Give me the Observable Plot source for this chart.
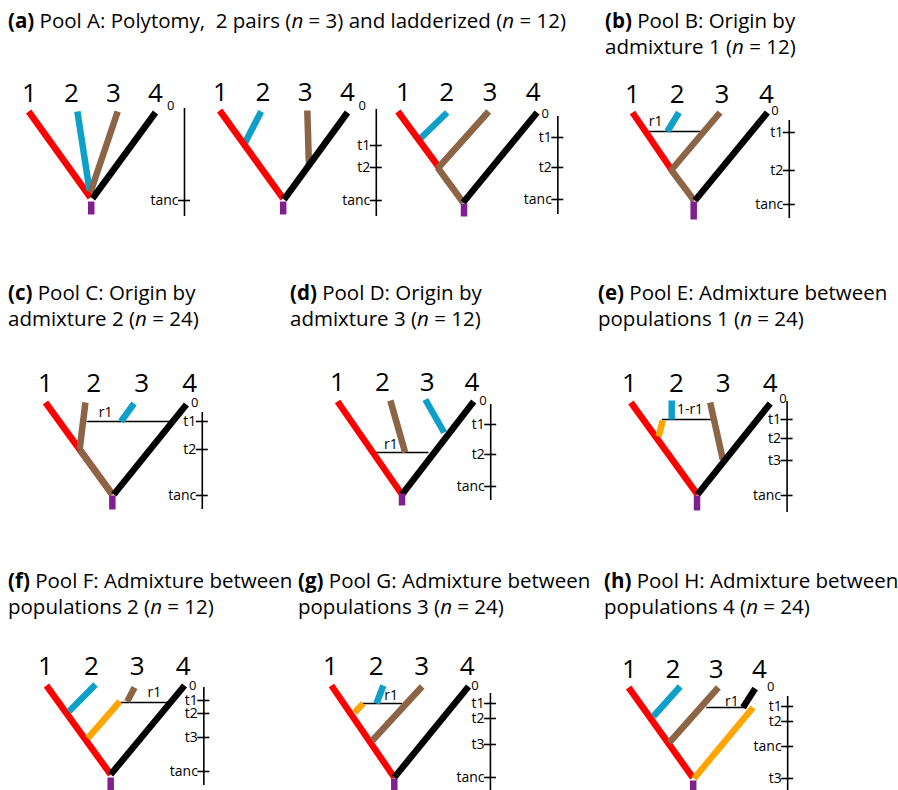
<!DOCTYPE html>
<html><head><meta charset="utf-8">
<script src="https://cdn.jsdelivr.net/npm/d3@7"></script>
<script src="https://cdn.jsdelivr.net/npm/@observablehq/plot@0.6"></script>
<style>
body{margin:0;background:#fff;}
#fig{position:relative;width:898px;height:790px;overflow:hidden;background:#fff;font-family:"Open Sans",sans-serif;color:#000;}
.title{position:absolute;font-size:20.5px;line-height:26px;white-space:pre;color:#000;}
.title b{font-weight:700}
</style></head><body><div id="fig"></div>
<script>
// ---- data ----
const panelTitles = [
  {panel:"a", tag:"(a)", lines:["Pool A: Polytomy,  2 pairs (n = 3) and ladderized (n = 12)"]},
  {panel:"b", tag:"(b)", lines:["Pool B: Origin by", "admixture 1 (n = 12)"]},
  {panel:"c", tag:"(c)", lines:["Pool C: Origin by", "admixture 2 (n = 24)"]},
  {panel:"d", tag:"(d)", lines:["Pool D: Origin by", "admixture 3 (n = 12)"]},
  {panel:"e", tag:"(e)", lines:["Pool E: Admixture between", "populations 1 (n = 24)"]},
  {panel:"f", tag:"(f)", lines:["Pool F: Admixture between", "populations 2 (n = 12)"]},
  {panel:"g", tag:"(g)", lines:["Pool G: Admixture between", "populations 3 (n = 24)"]},
  {panel:"h", tag:"(h)", lines:["Pool H: Admixture between", "populations 4 (n = 24)"]}
];
const tipLabels = [
  {label:"1", x:1, t:-1.0}, {label:"2", x:2, t:-1.0},
  {label:"3", x:3, t:-1.0}, {label:"4", x:4, t:-1.0}
];
// lineage groups and their colours
const lineageNames = ["lineageRed","lineageBlue","lineageBrown","lineageBlack","lineageOrange","lineagePurple"];
const lineageColors = ["#ff0000","#0ea0c8","#8c6446","#000000","#ffa500","#80208f"];

// branches: x in tip units (1..4), t in time units (0 = present)
const branches = [
  {tree:"A1", lin:"lineageRed",    x1:0.98, t1:0.0, x2:2.45, t2:8.6},
  {tree:"A1", lin:"lineageBlue",   x1:2.14, t1:0.0, x2:2.43, t2:7.9},
  {tree:"A1", lin:"lineageBrown",  x1:3.10, t1:0.0, x2:2.45, t2:8.1},
  {tree:"A1", lin:"lineageBlack",  x1:4.00, t1:0.1, x2:2.50, t2:8.7},
  {tree:"A1", lin:"lineagePurple", x1:2.47, t1:9.0, x2:2.47, t2:10.3},

  {tree:"A2", lin:"lineageBlue",   x1:1.96, t1:0.1, x2:1.57, t2:3.3},
  {tree:"A2", lin:"lineageBrown",  x1:3.05, t1:0.0, x2:3.09, t2:5.5},
  {tree:"A2", lin:"lineageRed",    x1:0.98, t1:0.0, x2:2.48, t2:8.8},
  {tree:"A2", lin:"lineageBlack",  x1:4.00, t1:0.2, x2:2.50, t2:8.9},
  {tree:"A2", lin:"lineagePurple", x1:2.48, t1:9.1, x2:2.48, t2:10.4},

  {tree:"A3", lin:"lineageBlue",   x1:2.01, t1:0.1, x2:1.39, t2:2.7},
  {tree:"A3", lin:"lineageRed",    x1:0.87, t1:0.0, x2:1.84, t2:5.7},
  {tree:"A3", lin:"lineageBrown",  x1:2.97, t1:0.0, x2:1.79, t2:5.7},
  {tree:"A3", lin:"lineageBrown",  x1:1.79, t1:5.6, x2:2.38, t2:9.1},
  {tree:"A3", lin:"lineageBlack",  x1:4.09, t1:0.1, x2:2.38, t2:9.1},
  {tree:"A3", lin:"lineagePurple", x1:2.40, t1:9.2, x2:2.40, t2:10.5},

  {tree:"B", lin:"lineageBlue",   x1:2.04, t1:0.0, x2:1.78, t2:1.9},
  {tree:"B", lin:"lineageRed",    x1:1.00, t1:0.0, x2:1.87, t2:5.7},
  {tree:"B", lin:"lineageBrown",  x1:2.96, t1:0.0, x2:1.86, t2:5.8},
  {tree:"B", lin:"lineageBrown",  x1:1.86, t1:5.7, x2:2.38, t2:8.8},
  {tree:"B", lin:"lineageBlack",  x1:4.02, t1:0.0, x2:2.40, t2:8.8},
  {tree:"B", lin:"lineagePurple", x1:2.37, t1:8.9, x2:2.37, t2:10.7},

  {tree:"C", lin:"lineageRed",    x1:1.00, t1:0.0, x2:2.39, t2:9.2},
  {tree:"C", lin:"lineageBrown",  x1:1.83, t1:0.0, x2:1.71, t2:4.7},
  {tree:"C", lin:"lineageBrown",  x1:1.71, t1:4.7, x2:2.39, t2:9.2},
  {tree:"C", lin:"lineageBlue",   x1:2.84, t1:0.1, x2:2.57, t2:1.9},
  {tree:"C", lin:"lineageBlack",  x1:3.93, t1:0.2, x2:2.42, t2:9.2},
  {tree:"C", lin:"lineagePurple", x1:2.39, t1:9.3, x2:2.39, t2:10.7},

  {tree:"D", lin:"lineageBrown",  x1:2.18, t1:-0.1, x2:2.51, t2:5.1},
  {tree:"D", lin:"lineageBlue",   x1:2.96, t1:-0.2, x2:3.38, t2:3.1},
  {tree:"D", lin:"lineageRed",    x1:1.00, t1:0.0, x2:2.44, t2:9.3},
  {tree:"D", lin:"lineageBlack",  x1:4.04, t1:0.0, x2:2.44, t2:9.3},
  {tree:"D", lin:"lineagePurple", x1:2.44, t1:9.2, x2:2.44, t2:10.4},

  {tree:"E", lin:"lineageRed",    x1:1.03, t1:0.0, x2:2.45, t2:9.2},
  {tree:"E", lin:"lineageOrange", x1:1.71, t1:1.8, x2:1.62, t2:3.4},
  {tree:"E", lin:"lineageBlue",   x1:1.90, t1:-0.2, x2:1.90, t2:1.7},
  {tree:"E", lin:"lineageBrown",  x1:2.72, t1:0.0, x2:2.99, t2:5.7},
  {tree:"E", lin:"lineageBlack",  x1:4.00, t1:0.1, x2:2.45, t2:9.2},
  {tree:"E", lin:"lineagePurple", x1:2.44, t1:9.3, x2:2.44, t2:10.8},

  {tree:"F", lin:"lineageRed",    x1:1.02, t1:0.0, x2:2.42, t2:8.9},
  {tree:"F", lin:"lineageBlue",   x1:2.09, t1:-0.1, x2:1.51, t2:2.6},
  {tree:"F", lin:"lineageOrange", x1:2.62, t1:1.6, x2:1.92, t2:5.3},
  {tree:"F", lin:"lineageBrown",  x1:2.94, t1:0.2, x2:2.78, t2:1.6},
  {tree:"F", lin:"lineageBlack",  x1:4.03, t1:0.0, x2:2.42, t2:8.9},
  {tree:"F", lin:"lineagePurple", x1:2.42, t1:9.2, x2:2.42, t2:10.6},

  {tree:"G", lin:"lineageRed",    x1:1.02, t1:0.0, x2:2.40, t2:9.2},
  {tree:"G", lin:"lineageOrange", x1:1.72, t1:1.8, x2:1.53, t2:2.7},
  {tree:"G", lin:"lineageBlue",   x1:2.16, t1:0.0, x2:2.01, t2:1.8},
  {tree:"G", lin:"lineageBrown",  x1:3.01, t1:0.1, x2:1.92, t2:5.5},
  {tree:"G", lin:"lineageBlack",  x1:4.03, t1:0.1, x2:2.40, t2:9.2},
  {tree:"G", lin:"lineagePurple", x1:2.40, t1:9.3, x2:2.40, t2:10.5},

  {tree:"H", lin:"lineageRed",    x1:0.98, t1:0.0, x2:2.46, t2:9.0},
  {tree:"H", lin:"lineageBlue",   x1:2.17, t1:-0.1, x2:1.55, t2:2.9},
  {tree:"H", lin:"lineageBrown",  x1:3.05, t1:0.0, x2:1.92, t2:5.5},
  {tree:"H", lin:"lineageBlack",  x1:3.90, t1:0.1, x2:3.62, t2:2.0},
  {tree:"H", lin:"lineageOrange", x1:3.85, t1:2.0, x2:2.49, t2:9.1},
  {tree:"H", lin:"lineagePurple", x1:2.47, t1:9.3, x2:2.47, t2:10.3}
];

const admixtures = [
  {tree:"B", x1:1.37, x2:2.53, t:1.9, label:"r1",   lx:1.52, lt:0.9},
  {tree:"C", x1:1.85, x2:3.58, t:1.9, label:"r1",   lx:2.25, lt:1.0},
  {tree:"D", x1:1.80, x2:3.03, t:5.1, label:"r1",   lx:2.19, lt:4.3},
  {tree:"E", x1:1.69, x2:2.83, t:1.7, label:"1-r1", lx:2.29, lt:0.7},
  {tree:"F", x1:2.63, x2:3.69, t:1.7, label:"r1",   lx:3.37, lt:0.7},
  {tree:"G", x1:1.70, x2:2.57, t:1.8, label:"r1",   lx:2.33, lt:1.0},
  {tree:"H", x1:2.77, x2:3.71, t:2.0, label:"r1",   lx:3.36, lt:1.4}
];

const timeAxes = [
  {tree:"A1", x:4.69, top:-0.3, bottom:10.5},
  {tree:"A2", x:4.68, top:-0.1, bottom:10.6},
  {tree:"A3", x:4.57, top:0.5,  bottom:10.3},
  {tree:"B",  x:4.51, top:0.8,  bottom:10.6},
  {tree:"C",  x:4.26, top:1.0,  bottom:10.7},
  {tree:"D",  x:4.42, top:0.3,  bottom:9.9},
  {tree:"E",  x:4.36, top:-0.1, bottom:11.0},
  {tree:"F",  x:4.45, top:0.2,  bottom:10.0},
  {tree:"G",  x:4.51, top:0.8,  bottom:10.5},
  {tree:"H",  x:4.65, top:0.9,  bottom:10.3}
];

const timeTicks = [
  {tree:"A1", label:"tanc", t:8.9},
  {tree:"A2", label:"t1", t:3.5}, {tree:"A2", label:"t2", t:5.7}, {tree:"A2", label:"tanc", t:9.0},
  {tree:"A3", label:"t1", t:2.6}, {tree:"A3", label:"t2", t:5.6}, {tree:"A3", label:"tanc", t:8.8},
  {tree:"B", label:"t1", t:2.0}, {tree:"B", label:"t2", t:5.8}, {tree:"B", label:"tanc", t:9.2},
  {tree:"C", label:"t1", t:1.9}, {tree:"C", label:"t2", t:4.7}, {tree:"C", label:"tanc", t:9.3},
  {tree:"D", label:"t1", t:2.3}, {tree:"D", label:"t2", t:5.3}, {tree:"D", label:"tanc", t:8.5},
  {tree:"E", label:"t1", t:1.7}, {tree:"E", label:"t2", t:3.6}, {tree:"E", label:"t3", t:5.8}, {tree:"E", label:"tanc", t:9.3},
  {tree:"F", label:"t1", t:1.5}, {tree:"F", label:"t2", t:2.8}, {tree:"F", label:"t3", t:5.2}, {tree:"F", label:"tanc", t:8.6},
  {tree:"G", label:"t1", t:1.8}, {tree:"G", label:"t2", t:3.3}, {tree:"G", label:"t3", t:5.9}, {tree:"G", label:"tanc", t:9.2},
  {tree:"H", label:"t1", t:1.9}, {tree:"H", label:"t2", t:3.4}, {tree:"H", label:"tanc", t:5.9}, {tree:"H", label:"t3", t:9.1}
];

const zeroLabels = [
  {tree:"A1", label:"0", x:4.36, t:-0.6},
  {tree:"A2", label:"0", x:4.35, t:-0.5},
  {tree:"A3", label:"0", x:4.28, t:0.2},
  {tree:"B",  label:"0", x:4.19, t:-0.2},
  {tree:"C",  label:"0", x:4.10, t:0.0},
  {tree:"D",  label:"0", x:4.25, t:-0.1},
  {tree:"E",  label:"0", x:4.27, t:-0.4},
  {tree:"F",  label:"0", x:4.21, t:0.0},
  {tree:"G",  label:"0", x:4.17, t:0.0},
  {tree:"H",  label:"0", x:4.26, t:-0.1}
];

// ---- layout (page placement only) ----
const titleLayout = {a:[8,7], b:[605,7], c:[8,279], d:[290,279], e:[598,279], f:[8,567], g:[298,567], h:[604,567]};
const treeLayout = [
  {tree:"A1", L1:29,    L4:155,   top:111},
  {tree:"A2", L1:220,   L4:347,   top:110},
  {tree:"A3", L1:403,   L4:532.7, top:111},
  {tree:"B",  L1:631.7, L4:765.7, top:111.7},
  {tree:"C",  L1:45,    L4:189.3, top:401.7},
  {tree:"D",  L1:337.3, L4:471.7, top:400.7},
  {tree:"E",  L1:629.3, L4:770,   top:401.7},
  {tree:"F",  L1:45,    L4:182.7, top:685},
  {tree:"G",  L1:330,   L4:466.7, top:685},
  {tree:"H",  L1:629.3, L4:759.3, top:687}
];

// ---- render ----
const fig = document.getElementById("fig");
const esc = s => s.replace(/&/g,"&amp;").replace(/</g,"&lt;");
for (const p of panelTitles) {
  const div = document.createElement("div");
  div.className = "title";
  const [lx, ty] = titleLayout[p.panel];
  div.style.left = lx + "px"; div.style.top = ty + "px";
  const lines = p.lines.map(l => esc(l).replace(/\bn\b/g, "<i>n</i>"));
  lines[0] = "<b>" + p.tag + "</b> " + lines[0];
  div.innerHTML = lines.join("<br>");
  fig.appendChild(div);
}

for (const lay of treeLayout) {
  const span = lay.L4 - lay.L1;
  const padL = 40, padT = 45, W = span + 110, H = 160;
  const f = d => d.tree === lay.tree;
  const ax = timeAxes.find(f);
  const ticks = timeTicks.filter(f);
  const adm = admixtures.filter(f);
  const svg = Plot.plot({
    width: W, height: H, margin: 0,
    x: {domain: [1, 4], range: [padL, padL + span], axis: null},
    y: {domain: [0, 10], range: [padT, padT + 100], axis: null},
    color: {type: "ordinal", domain: lineageNames, range: lineageColors},
    style: {background: "transparent", overflow: "visible", fontFamily: "'Open Sans', sans-serif", color: "#000"},
    marks: [
      Plot.ruleX([ax], {x: "x", y1: "top", y2: "bottom", stroke: "#000", strokeWidth: 1.6}),
      Plot.ruleY(ticks, {y: "t", x1: () => ax.x, x2: () => ax.x, insetLeft: -6, insetRight: -6, stroke: "#000", strokeWidth: 1.6}),
      Plot.text(ticks, {x: () => ax.x, y: "t", text: "label", textAnchor: "end", dx: -6, fontSize: 14, fill: "#000"}),
      Plot.text(zeroLabels.filter(f), {x: "x", y: "t", text: "label", fontSize: 13, fill: "#000"}),
      Plot.link(adm, {x1: "x1", x2: "x2", y1: "t", y2: "t", stroke: "#000", strokeWidth: 1.6}),
      Plot.text(adm, {x: "lx", y: "lt", text: "label", fontSize: 14, fill: "#000"}),
      Plot.link(branches.filter(f), {x1: "x1", y1: "t1", x2: "x2", y2: "t2", stroke: "lin", strokeWidth: 6.5}),
      Plot.text(tipLabels, {x: "x", y: "t", text: "label", fontSize: 26, lineAnchor: "bottom", fill: "#000"})
    ]
  });
  svg.style.position = "absolute";
  svg.style.left = (lay.L1 - padL) + "px";
  svg.style.top = (lay.top - padT) + "px";
  svg.style.maxWidth = "none";
  fig.appendChild(svg);
}
</script>
</body></html>
